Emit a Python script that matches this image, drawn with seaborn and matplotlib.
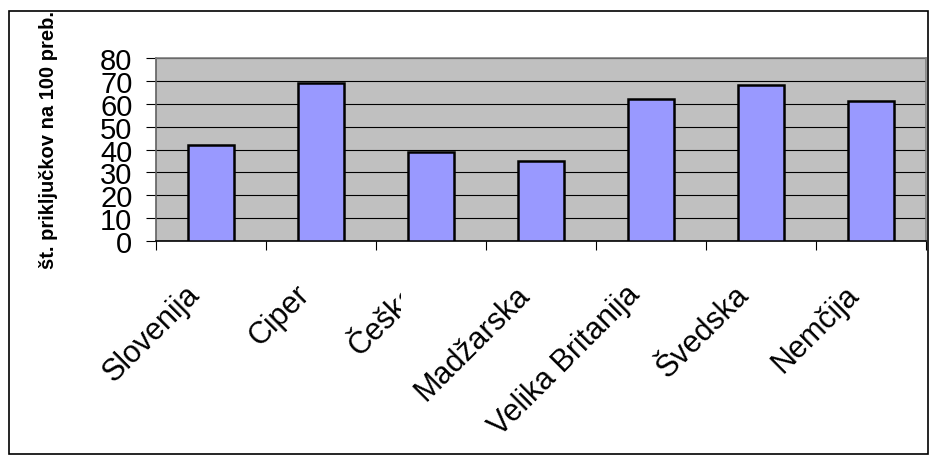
import numpy as np
import pandas as pd
import matplotlib
matplotlib.use("Agg")
import matplotlib.pyplot as plt
import seaborn as sns
from matplotlib.patches import Rectangle
from matplotlib.transforms import Bbox, ScaledTranslation

# data
countries = ["Slovenija", "Ciper", "Češka", "Madžarska", "Velika Britanija", "Švedska", "Nemčija"]
values = [42, 69, 39, 35, 62, 68, 61]
y_ticks = [0, 10, 20, 30, 40, 50, 60, 70, 80]
y_label = "št. priključkov na 100 preb."

sns.set_style("white")
plt.rcParams["font.family"] = ["Liberation Sans", "DejaVu Sans"]
plt.rcParams["text.color"] = "black"

df = pd.DataFrame({"drzava": countries, "vrednost": values})

fig = plt.figure(figsize=(9.36, 4.64), dpi=100)
ax = fig.add_axes([156 / 936, 1 - 242 / 464, 770 / 936, 183 / 464])
ax.set_facecolor("#C0C0C0")

sns.barplot(data=df, x="drzava", y="vrednost", color="#9999FF", width=0.41,
            edgecolor="black", linewidth=1.8, saturation=1, ax=ax, zorder=3)

ax.set_ylim(0, 80)
ax.set_xlim(-0.5, len(countries) - 0.5)
ax.set_yticks(y_ticks)
ax.yaxis.grid(True, color="black", linewidth=0.8, zorder=1)
ax.set_axisbelow(True)
ax.set_xlabel("")
ax.set_ylabel("")

# category boundaries carry the tick marks
ax.set_xticks(np.arange(-0.5, len(countries), 1), minor=True)
ax.tick_params(axis="x", which="major", bottom=True, length=0, pad=35, labelsize=22,
               labelcolor="black")
ax.tick_params(axis="x", which="minor", bottom=True, length=6.5, width=0.8, color="black",
               direction="out")
ax.tick_params(axis="y", which="major", left=True, length=7, width=0.8, color="black",
               direction="out", pad=10, labelsize=21, labelcolor="black")
ax.set_xticks(range(len(countries)))
ax.set_xticklabels(countries, rotation=45, ha="right", rotation_mode="anchor", va="center")

# nudge labels left, like the original
shift = ScaledTranslation(-16 / 100, 0, fig.dpi_scale_trans)
for t in ax.xaxis.get_major_ticks():
    t.label1.set_transform(t.label1.get_transform() + shift)

# the third label is cut off by its neighbour in the original
lab = ax.xaxis.get_major_ticks()[2].label1
lab.set_clip_box(Bbox([[0, 0], [401, 464]]))
lab.set_clip_on(True)

for side in ["top", "right"]:
    ax.spines[side].set_color("#808080")
    ax.spines[side].set_linewidth(1.2)
ax.spines["left"].set_color("#606060")
ax.spines["left"].set_linewidth(1.2)
ax.spines["bottom"].set_color("black")
ax.spines["bottom"].set_linewidth(1.2)

fig.text(49 / 936, 1 - 140 / 464, y_label, rotation=90, ha="center", va="center",
         fontsize=14.5, fontweight="bold")

fig.patches.append(Rectangle((9 / 936, 1 - 455 / 464), 919 / 936, 443 / 464,
                             transform=fig.transFigure, fill=False,
                             edgecolor="black", linewidth=1.2))

fig.savefig("out.png", dpi=100)
